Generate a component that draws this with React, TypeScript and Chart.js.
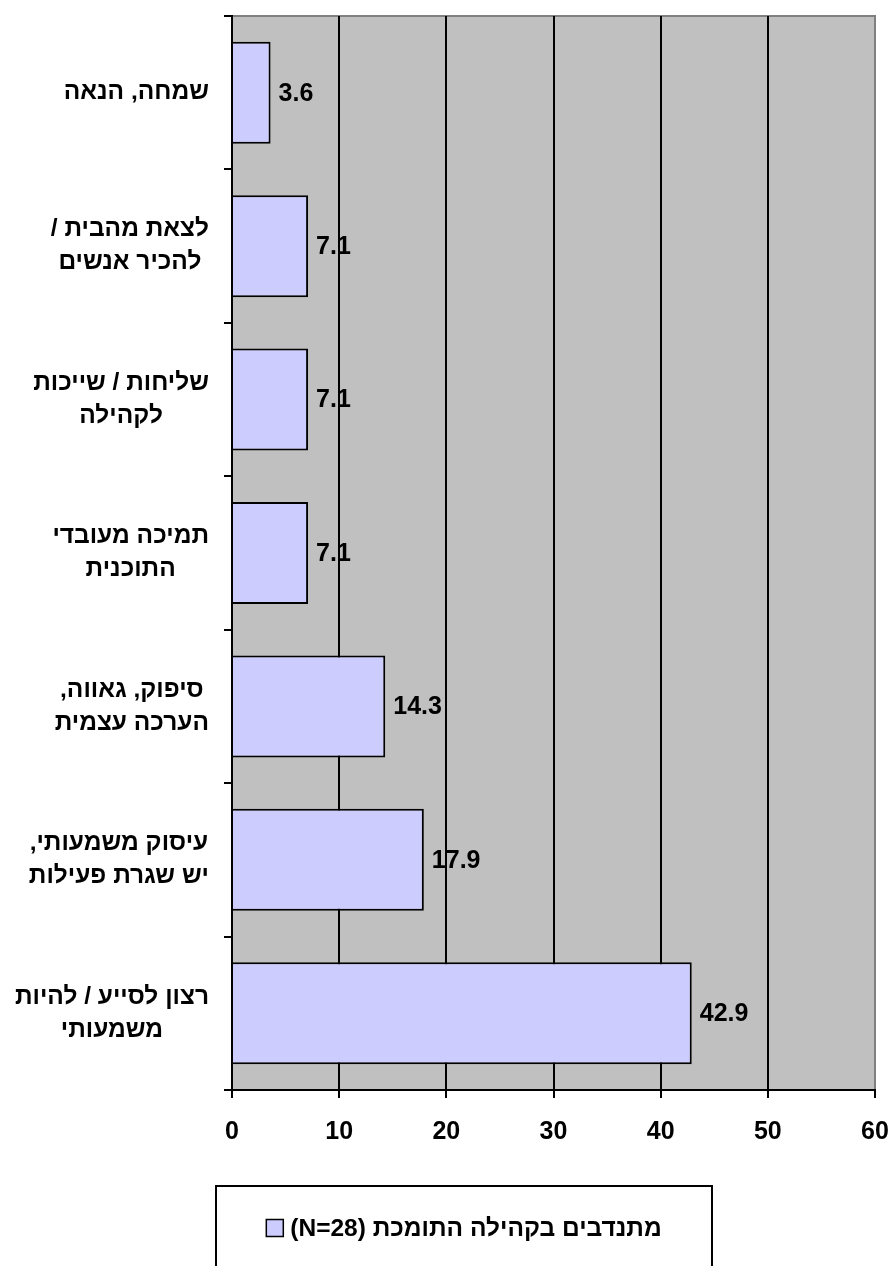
import React, { useEffect, useRef } from "react";
import { Chart, registerables } from "chart.js";

Chart.register(...registerables);

const categoryLines: string[][] = [
  ["שמחה, הנאה"],
  ["לצאת מהבית /", " להכיר אנשים"],
  ["שליחות / שייכות", "לקהילה"],
  ["תמיכה מעובדי", "התוכנית"],
  [" סיפוק, גאווה,", "הערכה עצמית"],
  ["עיסוק משמעותי,", "יש שגרת פעילות"],
  ["רצון לסייע / להיות", "משמעותי"],
];
const seriesValues: number[] = [3.6, 7.1, 7.1, 7.1, 14.3, 17.9, 42.9];
const seriesLabel = "מתנדבים בקהילה התומכת (N=28)";
const xTicks: number[] = [0, 10, 20, 30, 40, 50, 60];

const FONT = '"Liberation Sans", Arial, "DejaVu Sans", sans-serif';
const BAR_FILL = "#CCCCFF";
const PLOT_BG = "#C0C0C0";

const decorPlugin = {
  id: "decor",
  beforeDraw(chart: any) {
    const { ctx, chartArea } = chart;
    const { left, right, top, bottom } = chartArea;
    ctx.save();
    ctx.fillStyle = PLOT_BG;
    ctx.fillRect(left, top, right - left, bottom - top);
    ctx.strokeStyle = "#808080";
    ctx.lineWidth = 2;
    ctx.beginPath();
    ctx.moveTo(left, top);
    ctx.lineTo(right, top);
    ctx.lineTo(right, bottom);
    ctx.stroke();
    ctx.restore();
  },
  afterDraw(chart: any) {
    const { ctx, chartArea } = chart;
    const yScale = chart.scales.y;
    const xScale = chart.scales.x;
    const labels = chart.data.labels as string[][];
    const values = chart.data.datasets[0].data as number[];

    // category labels (right-aligned blocks, lines centered)
    ctx.save();
    ctx.direction = "rtl";
    ctx.font = `bold 24.5px ${FONT}`;
    ctx.fillStyle = "#000";
    ctx.textBaseline = "middle";
    ctx.textAlign = "center";
    const blockRight = chartArea.left - 23;
    const lineH = 33;
    labels.forEach((lines, i) => {
      const cy = yScale.getPixelForValue(i);
      const widths = lines.map((l) => ctx.measureText(l.trim()).width);
      const maxW = Math.max(...widths);
      const cx = blockRight - maxW / 2;
      const n = lines.length;
      lines.forEach((l, j) => {
        const y = cy + (j - (n - 1) / 2) * lineH;
        ctx.fillText(l.trim(), cx, y);
      });
    });
    ctx.restore();

    // data labels
    ctx.save();
    ctx.font = `bold 25px ${FONT}`;
    ctx.fillStyle = "#000";
    ctx.textBaseline = "middle";
    ctx.textAlign = "left";
    values.forEach((v, i) => {
      const x = xScale.getPixelForValue(v) + 8;
      const y = yScale.getPixelForValue(i) + 1;
      ctx.fillText(v.toFixed(1), x, y);
    });
    ctx.restore();

    // legend
    ctx.save();
    const boxL = 216, boxR = 712, boxT = 1186, boxB = 1300;
    ctx.strokeStyle = "#000";
    ctx.lineWidth = 2;
    ctx.strokeRect(boxL, boxT, boxR - boxL, boxB - boxT);
    ctx.direction = "rtl";
    ctx.font = `bold 24.5px ${FONT}`;
    const tw = ctx.measureText(seriesLabel).width;
    const sq = 17;
    const gap = 7;
    const total = sq + gap + tw;
    const startX = (boxL + boxR) / 2 - total / 2;
    const cy = 1228;
    ctx.fillStyle = BAR_FILL;
    ctx.fillRect(startX, cy - sq / 2, sq, sq);
    ctx.lineWidth = 1.5;
    ctx.strokeRect(startX, cy - sq / 2, sq, sq);
    ctx.fillStyle = "#000";
    ctx.textBaseline = "middle";
    ctx.textAlign = "left";
    ctx.fillText(seriesLabel, startX + sq + gap, cy + 1);
    ctx.restore();
  },
};

export default function App() {
  const ref = useRef<HTMLCanvasElement>(null);
  useEffect(() => {
    document.body.style.margin = "0";
    const canvas = ref.current!;
    const chart = new Chart(canvas, {
      type: "bar",
      data: {
        labels: categoryLines as any,
        datasets: [
          {
            label: seriesLabel,
            data: seriesValues,
            backgroundColor: BAR_FILL,
            borderColor: "#000",
            borderWidth: 2,
            barPercentage: 0.665,
            categoryPercentage: 1,
          },
        ],
      },
      options: {
        indexAxis: "y",
        responsive: false,
        animation: false,
        devicePixelRatio: 1,
        layout: { padding: { top: 16, right: 16, left: 0, bottom: 0 } },
        plugins: { legend: { display: false }, tooltip: { enabled: false } },
        scales: {
          x: {
            type: "linear",
            min: xTicks[0],
            max: xTicks[xTicks.length - 1],
            afterBuildTicks: (scale: any) => {
              scale.ticks = xTicks.map((v) => ({ value: v }));
            },
            afterFit: (scale: any) => {
              scale.height = 176;
              scale.paddingLeft = 0;
              scale.paddingRight = 0;
            },
            grid: {
              color: (c: any) =>
                c.tick && c.tick.value === 0
                  ? "rgba(0,0,0,0)"
                  : c.tick && c.tick.value === 60
                  ? "#808080"
                  : "#000",
              lineWidth: 2,
              tickLength: 8,
              tickColor: "#000",
              drawTicks: true,
            },
            border: { display: true, color: "#000", width: 2 },
            ticks: {
              color: "#000",
              font: { family: FONT, size: 25, weight: "bold" },
              padding: 19,
              maxRotation: 0,
            },
          },
          y: {
            type: "category",
            offset: true,
            afterFit: (scale: any) => {
              scale.width = 232;
              scale.paddingTop = 0;
              scale.paddingBottom = 0;
            },
            grid: {
              offset: true,
              drawOnChartArea: false,
              drawTicks: true,
              tickLength: 8,
              color: "#000",
              lineWidth: 2,
            },
            border: { display: true, color: "#000", width: 2 },
            ticks: { display: false },
          },
        },
      },
      plugins: [decorPlugin],
    });
    return () => chart.destroy();
  }, []);
  return (
    <div style={{ width: 891, height: 1266 }}>
      <canvas ref={ref} width={891} height={1266} />
    </div>
  );
}
